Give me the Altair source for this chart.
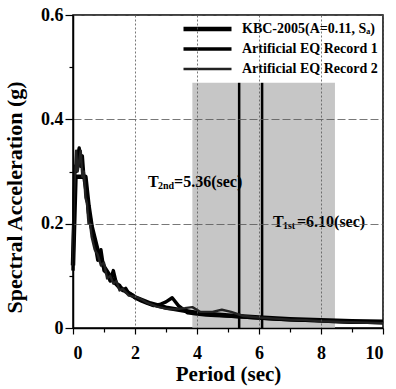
import altair as alt
import pandas as pd

# ---------------- data ----------------
series_names = ["KBC-2005(A=0.11, Sₐ)", "Artificial EQ Record 1", "Artificial EQ Record 2"]

kbc_T = [0, 0.08, 0.4, 0.5, 0.6, 0.8, 1.0, 1.25, 1.5, 2.0, 2.5, 3.0, 4.0, 5.0, 6.0, 7.0, 8.0, 9.0, 10.0]
kbc_Sa = [0.12, 0.29, 0.29, 0.235, 0.195, 0.147, 0.117, 0.094, 0.078, 0.059, 0.047, 0.039, 0.029,
          0.024, 0.020, 0.017, 0.015, 0.013, 0.012]

rec1_T = [0, 0.03, 0.06, 0.1, 0.15, 0.2, 0.25, 0.3, 0.35, 0.4, 0.45, 0.5, 0.55, 0.6, 0.7, 0.8, 0.9,
          1.0, 1.1, 1.2, 1.3, 1.4, 1.5, 1.6, 1.7, 1.8, 1.9, 2.0, 2.2, 2.4, 2.6, 2.8, 3.0, 3.2, 3.4,
          3.7, 4.0, 4.3, 4.6, 5.0, 5.5, 6.0, 6.5, 7.0, 7.5, 8.0, 8.5, 9.0, 9.5, 10.0]
rec1_Sa = [0.11, 0.22, 0.31, 0.30, 0.33, 0.345, 0.31, 0.33, 0.29, 0.27, 0.25, 0.22, 0.215, 0.19,
           0.165, 0.13, 0.15, 0.11, 0.105, 0.09, 0.11, 0.085, 0.082, 0.072, 0.076, 0.066, 0.064,
           0.058, 0.052, 0.047, 0.043, 0.045, 0.05, 0.058, 0.043, 0.029, 0.027, 0.025, 0.024,
           0.023, 0.021, 0.019, 0.017, 0.016, 0.015, 0.014, 0.012, 0.011, 0.011, 0.010]

rec2_T = [0, 0.03, 0.06, 0.1, 0.15, 0.2, 0.25, 0.3, 0.35, 0.4, 0.45, 0.5, 0.55, 0.6, 0.7, 0.8, 0.9,
          1.0, 1.1, 1.2, 1.3, 1.4, 1.5, 1.6, 1.8, 2.0, 2.2, 2.4, 2.7, 3.0, 3.3, 3.6, 3.85, 4.1,
          4.5, 4.8, 5.1, 5.5, 6.0, 6.5, 7.0, 7.5, 8.0, 8.5, 9.0, 9.5, 10.0]
rec2_Sa = [0.12, 0.25, 0.29, 0.34, 0.30, 0.32, 0.34, 0.29, 0.30, 0.25, 0.24, 0.20, 0.20, 0.175,
           0.15, 0.14, 0.12, 0.125, 0.095, 0.10, 0.085, 0.09, 0.072, 0.075, 0.062, 0.060, 0.055,
           0.048, 0.041, 0.037, 0.036, 0.038, 0.040, 0.031, 0.031, 0.035, 0.031, 0.023, 0.020,
           0.018, 0.016, 0.015, 0.013, 0.012, 0.011, 0.010, 0.009]

band_T = [3.85, 8.45]          # shaded period range
band_top = 0.47
mode_T = [5.36, 6.10]          # T_2nd, T_1st

x_ticks = [0, 1, 2, 3, 4, 5, 6, 7, 8, 9, 10]          # odd ones are minor
y_ticks = [0, 0.1, 0.2, 0.3, 0.4, 0.5, 0.6]           # 0.1/0.3/0.5 are minor

# ---------------- tables ----------------
rows = []
for name, Ts, Ss in zip(series_names, [kbc_T, rec1_T, rec2_T], [kbc_Sa, rec1_Sa, rec2_Sa]):
    for t, s in zip(Ts, Ss):
        rows.append({"series": name, "T": t, "Sa": s})
df = pd.DataFrame(rows)

band_df = pd.DataFrame({"x0": [band_T[0]], "x1": [band_T[1]], "y0": [0.0], "y1": [band_top]})
mode_df = pd.DataFrame({"T": mode_T, "y0": [0.0, 0.0], "y1": [band_top, band_top]})

FONT = "Liberation Serif"

x_scale = alt.Scale(domain=[0, 10], nice=False, zero=False)
y_scale = alt.Scale(domain=[0, 0.6], nice=False)

x_minor = "round(datum.value) % 2 == 1"
y_minor = "round(datum.value * 10) % 2 == 1"

x_axis = alt.Axis(values=x_ticks, title="Period (sec)", grid=True, gridDash=[2, 2],
                  gridColor="#555555", gridWidth=0.8,
                  gridOpacity={"condition": {"test": x_minor, "value": 0}, "value": 1},
                  tickSize={"condition": {"test": x_minor, "value": 4}, "value": 6},
                  labelExpr=f"{x_minor} ? '' : datum.label",
                  labelPadding=10, titlePadding=1, titleFontSize=21, zindex=1)
y_axis = alt.Axis(values=y_ticks, title="Spectral Acceleration (g)", grid=True,
                  gridDash=[8, 3], gridColor="#555555", gridWidth=0.8,
                  gridOpacity={"condition": {"test": y_minor, "value": 0}, "value": 1},
                  tickSize={"condition": {"test": y_minor, "value": 4}, "value": 8},
                  labelPadding=2, titlePadding=14, titleFontSize=22, titleY=182, zindex=1,
                  labelExpr=f"{y_minor} ? '' : (datum.value == 0 ? '0' : format(datum.value, '.1f'))")

band = alt.Chart(band_df).mark_rect(color="#c6c6c6").encode(
    x=alt.X("x0:Q", scale=x_scale, axis=x_axis),
    x2="x1:Q",
    y=alt.Y("y0:Q", scale=y_scale, axis=y_axis),
    y2="y1:Q",
)

modes = alt.Chart(mode_df).mark_rule(color="black", strokeWidth=2.5).encode(
    x=alt.X("T:Q", scale=x_scale, axis=x_axis),
    y=alt.Y("y0:Q", scale=y_scale, axis=y_axis),
    y2="y1:Q",
)

legend = alt.Legend(title=None, orient="none", legendX=108, legendY=6, symbolType="stroke",
                    symbolSize=2304, labelFont=FONT, labelFontSize=14, labelFontWeight="bold",
                    labelColor="black", labelLimit=300, clipHeight=16, rowPadding=4,
                    labelOffset=8, padding=0)

lines = alt.Chart(df).mark_line(strokeJoin="round").encode(
    x=alt.X("T:Q", scale=x_scale, axis=x_axis),
    y=alt.Y("Sa:Q", scale=y_scale, axis=y_axis),
    color=alt.Color("series:N", sort=series_names,
                    scale=alt.Scale(domain=series_names, range=["#000000", "#000000", "#222222"]),
                    legend=legend),
    strokeWidth=alt.StrokeWidth("series:N", sort=series_names,
                                scale=alt.Scale(domain=series_names, range=[4.5, 2.4, 1.8]),
                                legend=legend),
    order="T:Q",
)

ann_df = pd.DataFrame({"x": [2.42, 6.45], "y": [0.28, 0.203]})

def ann(i, text, size, dx, dy):
    return alt.Chart(ann_df.iloc[[i]]).mark_text(
        text=text, align="left", baseline="middle", font=FONT, fontWeight="bold",
        fontSize=size, dx=dx, dy=dy, color="black"
    ).encode(x=alt.X("x:Q", scale=x_scale, axis=x_axis),
             y=alt.Y("y:Q", scale=y_scale, axis=y_axis))

texts = [
    ann(0, "T", 16, 0, 0), ann(0, "2nd", 10, 10, 4), ann(0, "=5.36(sec)", 16, 26, 0),
    ann(1, "T", 16, 0, 0), ann(1, "1st", 10, 10, 4), ann(1, "=6.10(sec)", 16, 24, 0),
]

chart = alt.layer(band, modes, lines, *texts).properties(
    width=310, height=313,
    autosize=alt.AutoSizeParams(type="none"),
    padding={"left": 73, "top": 15, "right": 13, "bottom": 61},
    background="white",
).configure_view(stroke="black", strokeWidth=1.5).configure_axis(
    labelFont=FONT, labelFontSize=18, labelFontWeight="bold", labelColor="black",
    titleFont=FONT, titleFontWeight="bold", titleColor="black",
    domainColor="black", domainWidth=1.5, tickColor="black", tickWidth=1.2,
)

chart.save("out.html", embed_options={"renderer": "svg", "actions": False})
